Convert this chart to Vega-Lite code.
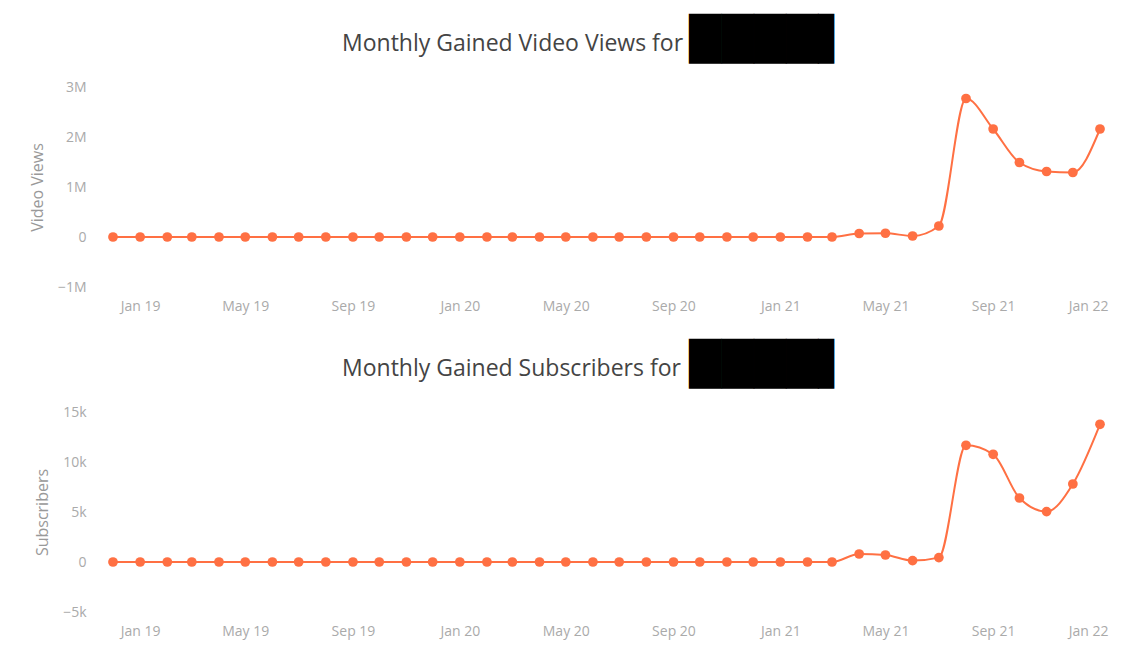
{
  "$schema": "https://vega.github.io/schema/vega-lite/v6.json",
  "background": "white",
  "padding": {"left": 29, "top": 19, "right": 30, "bottom": 5},
  "spacing": 31,
  "config": {
    "view": {"stroke": null},
    "font": "Open Sans",
    "title": {
      "font": "Open Sans",
      "fontSize": 23,
      "fontWeight": "normal",
      "color": "#444444",
      "anchor": "start",
      "frame": "group",
      "dx": 241,
      "offset": 5,
      "subtitleFont": "DejaVu Sans",
      "subtitleFontSize": 42,
      "subtitleColor": "#000000",
      "subtitlePadding": -36
    },
    "axis": {
      "grid": false,
      "domain": false,
      "ticks": false,
      "labelFont": "Open Sans",
      "labelFontSize": 14,
      "labelColor": "#aaaaaa",
      "titleFont": "Open Sans",
      "titleFontSize": 16,
      "titleFontWeight": "normal",
      "titleColor": "#999999"
    }
  },
  "data": {
    "values": [
      {"month": "2018-12-01", "views": 0, "subscribers": 0},
      {"month": "2019-01-01", "views": 0, "subscribers": 0},
      {"month": "2019-02-01", "views": 0, "subscribers": 0},
      {"month": "2019-03-01", "views": 0, "subscribers": 0},
      {"month": "2019-04-01", "views": 0, "subscribers": 0},
      {"month": "2019-05-01", "views": 0, "subscribers": 0},
      {"month": "2019-06-01", "views": 0, "subscribers": 0},
      {"month": "2019-07-01", "views": 0, "subscribers": 0},
      {"month": "2019-08-01", "views": 0, "subscribers": 0},
      {"month": "2019-09-01", "views": 0, "subscribers": 0},
      {"month": "2019-10-01", "views": 0, "subscribers": 0},
      {"month": "2019-11-01", "views": 0, "subscribers": 0},
      {"month": "2019-12-01", "views": 0, "subscribers": 0},
      {"month": "2020-01-01", "views": 0, "subscribers": 0},
      {"month": "2020-02-01", "views": 0, "subscribers": 0},
      {"month": "2020-03-01", "views": 0, "subscribers": 0},
      {"month": "2020-04-01", "views": 0, "subscribers": 0},
      {"month": "2020-05-01", "views": 0, "subscribers": 0},
      {"month": "2020-06-01", "views": 0, "subscribers": 0},
      {"month": "2020-07-01", "views": 0, "subscribers": 0},
      {"month": "2020-08-01", "views": 0, "subscribers": 0},
      {"month": "2020-09-01", "views": 0, "subscribers": 0},
      {"month": "2020-10-01", "views": 0, "subscribers": 0},
      {"month": "2020-11-01", "views": 0, "subscribers": 0},
      {"month": "2020-12-01", "views": 0, "subscribers": 0},
      {"month": "2021-01-01", "views": 0, "subscribers": 0},
      {"month": "2021-02-01", "views": 0, "subscribers": 0},
      {"month": "2021-03-01", "views": 0, "subscribers": 0},
      {"month": "2021-04-01", "views": 70000, "subscribers": 800},
      {"month": "2021-05-01", "views": 75000, "subscribers": 700},
      {"month": "2021-06-01", "views": 20000, "subscribers": 140},
      {"month": "2021-07-01", "views": 220000, "subscribers": 440},
      {"month": "2021-08-01", "views": 2770000, "subscribers": 11670},
      {"month": "2021-09-01", "views": 2160000, "subscribers": 10770},
      {"month": "2021-10-01", "views": 1490000, "subscribers": 6400},
      {"month": "2021-11-01", "views": 1310000, "subscribers": 5040},
      {"month": "2021-12-01", "views": 1290000, "subscribers": 7800},
      {"month": "2022-01-01", "views": 2160000, "subscribers": 13770}
    ]
  },
  "vconcat": [
    {
      "width": 1011,
      "height": 200,
      "title": {
        "text": "Monthly Gained Video Views for",
        "subtitle": "\u200b\u00a0\u00a0\u00a0\u00a0\u00a0\u00a0\u00a0\u00a0\u00a0\u00a0\u00a0\u00a0\u00a0\u00a0\u00a0\u00a0\u00a0\u00a0\u00a0\u00a0\u00a0\u00a0\u00a0\u00a0\u00a0\u00a0████▌"
      },
      "mark": {
        "type": "line",
        "interpolate": "monotone",
        "color": "#ff7043",
        "strokeWidth": 2,
        "point": {"filled": true, "size": 95, "color": "#ff7043", "opacity": 1}
      },
      "encoding": {
        "x": {
          "field": "month",
          "type": "temporal",
          "title": null,
          "scale": {"padding": 12},
          "axis": {"format": "%b %y", "tickCount": {"interval": "month", "step": 4}, "labelPadding": 12, "labelFlush": 15, "labelFlushOffset": 8}
        },
        "y": {
          "field": "views",
          "type": "quantitative",
          "title": "Video Views",
          "scale": {"domain": [-1000000, 3000000], "nice": false, "zero": false},
          "axis": {
            "values": [-1000000, 0, 1000000, 2000000, 3000000],
            "labelExpr": "datum.value == 0 ? '0' : format(datum.value, '~s')",
            "labelPadding": 15,
            "titlePadding": 12
          }
        }
      }
    },
    {
      "width": 1011,
      "height": 200,
      "title": {
        "text": "Monthly Gained Subscribers for",
        "subtitle": "\u200b\u00a0\u00a0\u00a0\u00a0\u00a0\u00a0\u00a0\u00a0\u00a0\u00a0\u00a0\u00a0\u00a0\u00a0\u00a0\u00a0\u00a0\u00a0\u00a0\u00a0\u00a0\u00a0\u00a0\u00a0\u00a0\u00a0████▌"
      },
      "mark": {
        "type": "line",
        "interpolate": "monotone",
        "color": "#ff7043",
        "strokeWidth": 2,
        "point": {"filled": true, "size": 95, "color": "#ff7043", "opacity": 1}
      },
      "encoding": {
        "x": {
          "field": "month",
          "type": "temporal",
          "title": null,
          "scale": {"padding": 12},
          "axis": {"format": "%b %y", "tickCount": {"interval": "month", "step": 4}, "labelPadding": 12, "labelFlush": 15, "labelFlushOffset": 8}
        },
        "y": {
          "field": "subscribers",
          "type": "quantitative",
          "title": "Subscribers",
          "scale": {"domain": [-5000, 15000], "nice": false, "zero": false},
          "axis": {
            "values": [-5000, 0, 5000, 10000, 15000],
            "labelExpr": "datum.value == 0 ? '0' : format(datum.value, '~s')",
            "labelPadding": 15,
            "titlePadding": 12
          }
        }
      }
    }
  ]
}
